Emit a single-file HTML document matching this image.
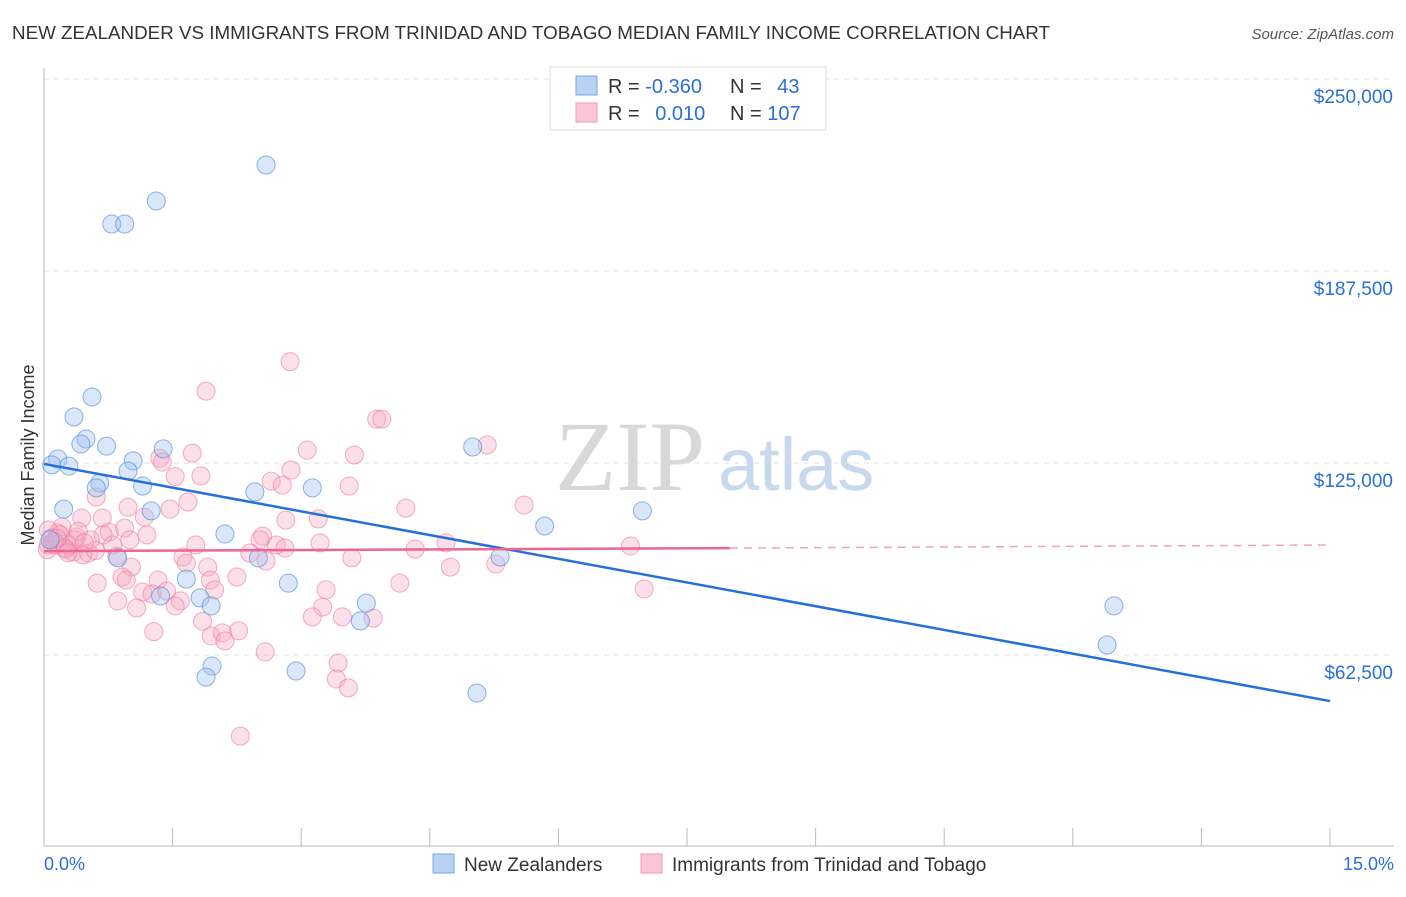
<!DOCTYPE html>
<html><head><meta charset="utf-8"><style>
body{margin:0;background:#fff;font-family:"Liberation Sans",sans-serif;}
</style></head><body>
<svg id="chart" width="1406" height="892" xmlns="http://www.w3.org/2000/svg" font-family="Liberation Sans, sans-serif">
<text x="12" y="39" font-size="18" fill="#333" textLength="1038" lengthAdjust="spacingAndGlyphs">NEW ZEALANDER VS IMMIGRANTS FROM TRINIDAD AND TOBAGO MEDIAN FAMILY INCOME CORRELATION CHART</text>
<text x="1394" y="39" font-size="15" fill="#555" text-anchor="end" font-style="italic">Source: ZipAtlas.com</text>
<text x="555" y="490" font-size="100" fill="#d8d8d8" style="font-family:'Liberation Serif',serif">ZIP</text>
<text x="718" y="490" font-size="74" fill="#c8d8ee">atlas</text>
<text transform="translate(34,455) rotate(-90)" font-size="18" fill="#333" text-anchor="middle">Median Family Income</text>
<g id="grid"></g><g id="pts"></g><g id="lines"></g>
<g>
<rect x="550" y="67" width="276" height="63" fill="#fff" stroke="#ddd"/>
<rect x="576" y="76" width="21" height="19" fill="#b8d2f4" stroke="#7aa6e0"/>
<rect x="576" y="103" width="21" height="19" fill="#fac6d6" stroke="#ee9ab5"/>
<text x="608" y="93" font-size="20" fill="#333">R = <tspan fill="#2b6fd6">-0.360</tspan></text>
<text x="730" y="93" font-size="20" fill="#333">N = <tspan fill="#2b6fd6" dx="10">43</tspan></text>
<text x="608" y="120" font-size="20" fill="#333">R = <tspan fill="#2b6fd6" dx="10">0.010</tspan></text>
<text x="730" y="120" font-size="20" fill="#333">N = <tspan fill="#2b6fd6">107</tspan></text>
</g>
<g>
<rect x="433" y="854" width="21" height="19" fill="#b8d2f4" stroke="#7aa6e0"/>
<text x="464" y="871" font-size="19" fill="#333">New Zealanders</text>
<rect x="641" y="854" width="21" height="19" fill="#fac6d6" stroke="#ee9ab5"/>
<text x="672" y="871" font-size="19" fill="#333">Immigrants from Trinidad and Tobago</text>
</g>
<text x="44" y="870" font-size="18" fill="#2b6fd6">0.0%</text>
<text x="1394" y="870" font-size="18" fill="#2b6fd6" text-anchor="end">15.0%</text>
</svg>
<script>
const yTicks=[250000,187500,125000,62500];
const yTickLabels=["$250,000","$187,500","$125,000","$62,500"];
const blueX=[0.79,0.94,1.31,2.59,0.56,0.35,0.49,0.43,0.73,1.39,0.16,0.09,0.29,1.04,0.98,1.15,0.65,0.61,0.23,1.25,5.00,2.46,3.13,2.11,5.84,6.98,5.32,2.50,2.85,1.66,1.36,1.82,1.95,3.76,3.69,12.48,12.40,1.96,1.89,2.94,5.05,0.86,0.07];
const blueY=[202800,202800,210300,222000,146500,140000,132800,131200,130500,129600,126300,124400,124000,125700,122400,117500,118500,116900,110000,109400,130200,115600,116900,101900,104500,109400,94400,94100,85900,87200,81700,81100,78500,79400,73600,78500,65800,58900,55300,57300,50100,94100,100000];
const pinkX=[2.87,1.89,3.88,3.94,5.17,3.07,1.73,1.35,1.38,3.62,2.88,1.83,1.53,2.65,2.78,3.56,0.61,1.68,5.60,4.22,0.98,1.47,0.44,0.68,1.17,3.20,2.82,0.94,0.21,0.16,0.76,0.69,1.20,2.55,2.52,1.00,0.38,0.54,3.22,4.69,2.71,2.81,1.77,0.80,6.84,4.33,0.24,0.34,0.52,0.45,2.40,0.85,1.62,3.59,2.59,1.66,5.27,1.02,4.74,1.91,2.25,0.91,0.96,1.33,0.62,1.94,4.15,3.29,7.00,1.99,1.15,1.26,1.43,0.86,1.59,1.53,3.25,1.08,3.13,3.48,3.84,1.85,1.28,2.27,1.95,2.08,2.11,2.58,3.43,3.41,3.55,2.29,0.05,0.05,0.09,0.13,0.19,0.30,0.36,0.12,0.25,0.40,0.60,0.04,0.15,0.47,0.28];
const pinkY=[158000,148400,139300,139300,130900,129200,128200,126600,125300,127600,122700,120800,120600,119100,117800,117500,113900,112300,111300,110300,110600,110000,107100,107100,107400,106800,106400,103800,104200,102200,102500,101600,101600,101200,100000,100000,100900,100000,99000,99000,98300,97300,98300,98300,98000,97000,97300,96000,95700,95100,95700,94700,94400,94100,93100,92400,92100,91100,91100,91100,87900,87900,86900,86900,85900,86900,85900,83700,84000,83700,83000,82400,83300,80100,80100,78500,78100,77800,74900,74900,74500,73500,70100,70400,68700,69700,67100,63500,59900,54700,51800,36100,103200,98300,100600,98300,101600,98300,100000,99500,97000,102800,96500,96800,100500,99000,95800];
const blueTrend=[[0,124700],[15,47500]];
const pinkTrend=[[0,96300],[8,97300],[15,98300]];
const X=v=>44+v/15*1286, Y=v=>79+(250000-v)/62500*192;
const NS="http://www.w3.org/2000/svg";
function mk(t,a,p){const e=document.createElementNS(NS,t);for(const k in a)e.setAttribute(k,a[k]);p.appendChild(e);return e;}
const g=document.getElementById('grid');
yTicks.forEach((t,i)=>{
 const l=mk('line',{x1:44,x2:1394,y1:Y(t),y2:Y(t),stroke:'#ddd','stroke-dasharray':'5,5'},g);
 
 
 const tx=mk('text',{x:1393,y:Y(t)+24,'font-size':19,fill:'#2b6fd6','text-anchor':'end'},g);
 tx.textContent=yTickLabels[i];
 
 
});
const ax=mk('line',{x1:44,x2:44,y1:68,y2:846,stroke:'#bbb'},g);


const bx=mk('line',{x1:44,x2:1394,y1:846,y2:846,stroke:'#bbb'},g);


for(let i=0;i<=10;i++){const t=mk('line',{x1:X(i*1.5),x2:X(i*1.5),y1:828,y2:846,stroke:'#bbb'},g);
 
 }
const p=document.getElementById('pts');
pinkX.forEach((x,i)=>{const c=mk('circle',{cx:X(x),cy:Y(pinkY[i]),r:9,fill:'rgba(246,165,192,0.35)',stroke:'rgba(235,120,160,0.6)'},p);
 
 });
blueX.forEach((x,i)=>{const c=mk('circle',{cx:X(x),cy:Y(blueY[i]),r:9,fill:'rgba(160,196,240,0.4)',stroke:'rgba(80,140,220,0.65)'},p);
 
 });
const L=document.getElementById('lines');
const b=mk('line',{x1:X(blueTrend[0][0]),y1:Y(blueTrend[0][1]),x2:X(blueTrend[1][0]),y2:Y(blueTrend[1][1]),stroke:'#2570d8','stroke-width':2.5},L);


const p1=mk('line',{x1:X(pinkTrend[0][0]),y1:Y(pinkTrend[0][1]),x2:X(pinkTrend[1][0]),y2:Y(pinkTrend[1][1]),stroke:'#ec6690','stroke-width':2.5},L);


const p2=mk('line',{x1:X(pinkTrend[1][0]),y1:Y(pinkTrend[1][1]),x2:X(pinkTrend[2][0]),y2:Y(pinkTrend[2][1]),stroke:'#ec6690','stroke-width':1.5,'stroke-dasharray':'8,6',opacity:0.6},L);


</script>
</body></html>
